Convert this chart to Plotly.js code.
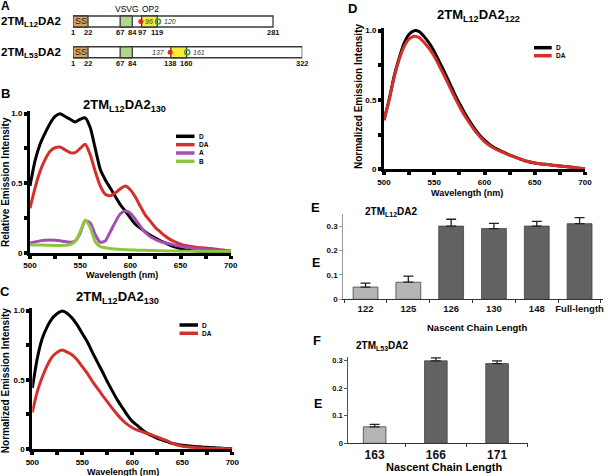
<!DOCTYPE html>
<html><head><meta charset="utf-8">
<script src="https://cdn.plot.ly/plotly-3.0.1.min.js"></script>
<style>html,body{margin:0;padding:0;background:#fff}#chart{width:608px;height:476px}</style>
</head><body><div id="chart"></div>
<script>
// ---------- DATA ----------
const wavelength = [500,505,510,515,520,525,530,535,540,545,550,555,560,565,570,575,580,585,590,595,600,605,610,615,620,625,630,635,640,645,650,655,660,665,670,675,680,685,690,695,700];

// Panel B: 2TM_L12DA2_130 relative emission
const B_D  = [0.48,0.66,0.78,0.86,0.93,0.98,1.0,0.98,0.96,0.94,0.96,0.97,0.90,0.75,0.60,0.525,0.465,0.405,0.345,0.30,0.25,0.205,0.177,0.15,0.125,0.105,0.086,0.07,0.053,0.04,0.028,0.02,0.015,0.012,0.01,0.009,0.008,0.007,0.006,0.005,0.005];
const B_DA = [0.32,0.465,0.585,0.67,0.73,0.755,0.76,0.74,0.72,0.72,0.75,0.78,0.705,0.585,0.48,0.42,0.41,0.43,0.46,0.48,0.453,0.40,0.333,0.27,0.225,0.18,0.149,0.118,0.094,0.077,0.062,0.052,0.045,0.04,0.036,0.033,0.03,0.025,0.02,0.015,0.012];
const B_A  = [0.07,0.078,0.085,0.09,0.092,0.09,0.086,0.08,0.075,0.085,0.14,0.23,0.215,0.13,0.075,0.085,0.15,0.22,0.28,0.30,0.285,0.24,0.19,0.145,0.115,0.095,0.08,0.07,0.062,0.054,0.046,0.04,0.035,0.031,0.028,0.025,0.022,0.02,0.018,0.016,0.015];
const B_B  = [0.058,0.056,0.055,0.054,0.053,0.052,0.052,0.053,0.058,0.08,0.15,0.235,0.18,0.08,0.045,0.035,0.03,0.027,0.024,0.022,0.02,0.019,0.018,0.017,0.016,0.015,0.014,0.013,0.012,0.012,0.011,0.011,0.01,0.01,0.01,0.009,0.009,0.009,0.008,0.008,0.008];

// Panel C: 2TM_L12DA2_130 normalized
const C_D  = [0.44,0.655,0.80,0.885,0.945,0.98,0.998,0.98,0.945,0.895,0.835,0.775,0.70,0.63,0.56,0.487,0.42,0.355,0.30,0.245,0.20,0.17,0.137,0.113,0.094,0.077,0.065,0.053,0.04,0.033,0.027,0.024,0.02,0.017,0.014,0.012,0.01,0.008,0.006,0.004,0.003];
const C_DA = [0.265,0.415,0.52,0.605,0.667,0.70,0.715,0.70,0.68,0.643,0.595,0.547,0.49,0.44,0.39,0.342,0.294,0.25,0.21,0.178,0.154,0.137,0.125,0.113,0.10,0.087,0.072,0.058,0.04,0.029,0.02,0.016,0.013,0.01,0.008,0.006,0.005,0.004,0.003,0.002,0.002];

// Panel D: 2TM_L12DA2_122 normalized
const D_D  = [0.355,0.50,0.67,0.80,0.91,0.975,1.0,0.993,0.957,0.91,0.85,0.776,0.705,0.627,0.548,0.476,0.41,0.35,0.296,0.248,0.21,0.18,0.156,0.137,0.12,0.103,0.089,0.075,0.062,0.053,0.046,0.04,0.036,0.032,0.028,0.024,0.02,0.016,0.012,0.007,0.003];
const D_DA = [0.355,0.495,0.66,0.79,0.885,0.94,0.96,0.95,0.915,0.87,0.815,0.745,0.675,0.60,0.525,0.455,0.39,0.335,0.283,0.238,0.20,0.172,0.15,0.132,0.117,0.102,0.09,0.076,0.063,0.054,0.046,0.04,0.036,0.032,0.028,0.024,0.02,0.016,0.012,0.007,0.003];

// Panel E: FRET efficiency vs nascent chain length (2TM_L12DA2)
const E_cats = ['122','125','126','130','148','Full-length'];
const E_vals = [0.05,0.07,0.30,0.29,0.30,0.31];
const E_err  = [0.016,0.025,0.028,0.021,0.019,0.025];
// Panel F: (2TM_L53DA2)
const F_cats = ['163','166','171'];
const F_vals = [0.06,0.30,0.29];
const F_err  = [0.009,0.011,0.01];

// Panel A schematic
const rowNames = ['2TM<sub>L12</sub>DA2','2TM<sub>L53</sub>DA2'];
const rowLength = [281,322];
const ssRange = [[1,22],[1,22]];
const vsvgRange = [[67,84],[67,84]];
const op2Range = [[97,119],[138,160]];
const donorSite = [96,137];
const acceptorSite = [120,161];
const rowTickLabels = [[1,22,67,84,97,119,281],[1,22,67,84,138,160,322]];

const xTickVals = [500,550,600,650,700];
const xTickText = ['500','550','600','650','700'];
const yTickVals = [0,0.5,1];
const yTickText = ['0','0.5','1.0'];
const barTickVals = [0,0.1,0.2,0.3];
const barTickText = ['0','0.1','0.2','0.3'];

// ---------- LAYOUT HELPERS ----------
const W=608,H=476;
const FF='"Liberation Sans", Arial, Helvetica, sans-serif';
const px=x=>x/W, py=y=>1-y/H;
const dom=(a,b)=>[px(a),px(b)];
const ydom=(top,bot)=>[py(bot),py(top)];
const RED='#D3302B', PURPLE='#A54DB3', GREEN='#8DC641';

function specX(a,b,anchor){return {domain:dom(a,b),range:[500,700],anchor:anchor,showline:true,linewidth:3,linecolor:'#000',
  ticks:'outside',ticklen:3,tickwidth:4,tickcolor:'#000',tickvals:xTickVals,ticktext:xTickText,
  minor:{tick0:500,dtick:25,ticks:'outside',ticklen:3,tickwidth:4,tickcolor:'#000',showgrid:false},
  tickfont:{family:FF,size:8,weight:'bold',color:'#000'},showgrid:false,zeroline:false,fixedrange:true};}
function specY(top,bot,anchor){return {domain:ydom(top,bot),range:[0,1.02],anchor:anchor,showline:true,linewidth:3,linecolor:'#000',
  ticks:'outside',ticklen:3,tickwidth:4,tickcolor:'#000',tickvals:yTickVals,ticktext:yTickText,
  minor:{tick0:0,dtick:0.25,ticks:'outside',ticklen:3,tickwidth:4,tickcolor:'#000',showgrid:false},
  tickfont:{family:FF,size:8,weight:'bold',color:'#000'},showgrid:false,zeroline:false,fixedrange:true};}

const traces=[];
// Panel A markers
traces.push({type:'scatter',mode:'markers',x:donorSite,y:[1,2],xaxis:'x',yaxis:'y',marker:{color:'#E0262B',size:5},showlegend:false,hoverinfo:'skip'});
traces.push({type:'scatter',mode:'markers',x:acceptorSite,y:[1,2],xaxis:'x',yaxis:'y',marker:{symbol:'circle-open',color:'#3E9A3A',size:5,line:{width:1.5}},showlegend:false,hoverinfo:'skip'});

function line(x,y,c,xa,ya,name){return {type:'scatter',mode:'lines',x:x,y:y,xaxis:xa,yaxis:ya,name:name,line:{color:c,width:3,shape:'spline',smoothing:0.6},showlegend:false,hoverinfo:'skip'};}
traces.push(line(wavelength,B_D,'#000','x2','y2','D'));
traces.push(line(wavelength,B_DA,RED,'x2','y2','DA'));
traces.push(line(wavelength,B_A,PURPLE,'x2','y2','A'));
traces.push(line(wavelength,B_B,GREEN,'x2','y2','B'));
traces.push(line(wavelength,C_D,'#000','x3','y3','D'));
traces.push(line(wavelength,C_DA,RED,'x3','y3','DA'));
traces.push(line(wavelength,D_D,'#000','x4','y4','D'));
traces.push(line(wavelength,D_DA,RED,'x4','y4','DA'));

const LIGHT='#B5B5B5', DARK='#626262';
traces.push({type:'bar',x:E_cats,y:E_vals,xaxis:'x5',yaxis:'y5',width:0.58,
  marker:{color:E_vals.map(v=>v<0.15?LIGHT:DARK),line:{color:'#444',width:0.8}},
  error_y:{type:'data',symmetric:false,array:E_err,arrayminus:E_err.map(()=>0),color:'#222',thickness:1.3,width:5},
  showlegend:false,hoverinfo:'skip'});
traces.push({type:'bar',x:F_cats,y:F_vals,xaxis:'x6',yaxis:'y6',width:0.37,
  marker:{color:F_vals.map(v=>v<0.15?LIGHT:DARK),line:{color:'#444',width:0.8}},
  error_y:{type:'data',symmetric:false,array:F_err,arrayminus:F_err.map(()=>0),color:'#222',thickness:1.3,width:5},
  showlegend:false,hoverinfo:'skip'});

// ---------- SHAPES ----------
const shapes=[];
const hh=0.179;
function box(x0,x1,row,fill){shapes.push({type:'rect',xref:'x',yref:'y',x0:x0,x1:x1,y0:row-hh,y1:row+hh,fillcolor:fill,line:{color:'#3a3a3a',width:1.3},layer:'below'});}
for(let r=0;r<2;r++){
  const row=r+1;
  box(1,rowLength[r],row,'#FFFFFF');
  box(ssRange[r][0],ssRange[r][1],row,'#D9A45C');
  box(vsvgRange[r][0],vsvgRange[r][1],row,'#B4D78E');
  box(op2Range[r][0],op2Range[r][1],row,'#F6EC3C');
}
// legend marks (paper)
function legLine(x0,x1,y,c){shapes.push({type:'line',xref:'paper',yref:'paper',x0:px(x0),x1:px(x1),y0:py(y),y1:py(y),line:{color:c,width:3.5}});}

const anns=[];
function A(text,x,y,size,o){o=o||{};anns.push(Object.assign({text:text,x:px(x),y:py(y),xref:'paper',yref:'paper',showarrow:false,
  font:{family:FF,size:size,color:o.color||'#000',style:o.style||'normal'},xanchor:o.xa||'center',yanchor:o.ya||'middle',textangle:o.angle||0},o.extra||{}));}

// Panel A annotations
A('<b>A</b>',5.5,6,12);
A('<b>'+rowNames[0]+'</b>',63,22,11.5,{xa:'right'});
A('<b>'+rowNames[1]+'</b>',63,52.5,11.5,{xa:'right'});
A('VSVG',126.5,9,8.5);
A('OP2',150,9,8.5);
for(let r=0;r<2;r++){
  const row=r+1;
  anns.push({text:'SS',x:(ssRange[r][0]+ssRange[r][1])/2,y:row,xref:'x',yref:'y',showarrow:false,font:{family:FF,size:9,color:'#222'}});
  rowTickLabels[r].forEach(v=>anns.push({text:'<b>'+v+'</b>',x:v,y:row+0.37,xref:'x',yref:'y',showarrow:false,font:{family:FF,size:7.5,color:'#111'}}));
}
anns.push({text:'<i>96</i>',x:99,y:1,xref:'x',yref:'y',showarrow:false,xanchor:'left',font:{family:FF,size:7,color:'#333'}});
anns.push({text:'<i>120</i>',x:acceptorSite[0]+5,y:1,xref:'x',yref:'y',showarrow:false,xanchor:'left',font:{family:FF,size:7,color:'#333'}});
anns.push({text:'<i>137</i>',x:donorSite[1]-4,y:2,xref:'x',yref:'y',showarrow:false,xanchor:'right',font:{family:FF,size:7,color:'#333'}});
anns.push({text:'<i>161</i>',x:acceptorSite[1]+5,y:2,xref:'x',yref:'y',showarrow:false,xanchor:'left',font:{family:FF,size:7,color:'#333'}});

// Panel B
A('<b>B</b>',5,94,13);
A('<b>2TM<sub>L12</sub>DA2<sub>130</sub></b>',124,105,13);
A('<b>Relative Emission Intensity</b>',5.5,182.5,10,{angle:-90});
A('<b>Wavelength (nm)</b>',122,275,9);
[['D','#000',136.3],['DA',RED,144.7],['A',PURPLE,153],['B',GREEN,161.3]].forEach(l=>{legLine(176,194.5,l[2],l[1]);A('<b>'+l[0]+'</b>',196.5,l[2],6.5,{xa:'left'});});

// Panel C
A('<b>C</b>',4.5,291,13);
A('<b>2TM<sub>L12</sub>DA2<sub>130</sub></b>',117.5,297.3,13);
A('<b>Normalized Emission Intensity</b>',5.5,380.7,10,{angle:-90});
A('<b>Wavelength (nm)</b>',122.5,472,9);
[['D','#000',325],['DA',RED,333.3]].forEach(l=>{legLine(179.5,198,l[2],l[1]);A('<b>'+l[0]+'</b>',200,l[2],6.5,{xa:'left'});});

// Panel D
A('<b>D</b>',352,8,13);
A('<b>2TM<sub>L12</sub>DA2<sub>122</sub></b>',478,15,13);
A('<b>Normalized Emission Intensity</b>',358.3,96.7,10,{angle:-90});
A('<b>Wavelength (nm)</b>',466.7,192.5,9);
[['D','#000',47.7],['DA',RED,55.7]].forEach(l=>{legLine(534,551.7,l[2],l[1]);A('<b>'+l[0]+'</b>',553.5,l[2],6.5,{xa:'left'});});

// Panel E
A('<b>E</b>',315.5,207.5,13);
A('<b>E</b>',315.5,263.3,12.5);
A('<b>2TM<sub>L12</sub>DA2</b>',391.5,211.7,10);
A('<b>Nascent Chain Length</b>',476.7,327.7,9.5);
// Panel F
A('<b>F</b>',316.5,340.5,13);
A('<b>E</b>',317.5,404,12.5);
A('<b>2TM<sub>L53</sub>DA2</b>',382.5,346,10);
A('<b>Nascent Chain Length</b>',444,467.3,11);

function barX(a,b,anchor,range,size){return {domain:dom(a,b),anchor:anchor,type:'category',range:range,showline:true,linecolor:'#333',linewidth:1,
  ticks:'outside',tickson:'boundaries',ticklen:3,tickcolor:'#333',tickangle:0,tickfont:{family:FF,size:size,weight:'bold',color:'#111'},showgrid:false,zeroline:false,fixedrange:true};}
function barY(top,bot,anchor,range,lc,size){return {domain:ydom(top,bot),anchor:anchor,range:range,showline:true,linecolor:lc,linewidth:1,
  ticks:'outside',ticklen:3,tickcolor:lc,tickvals:barTickVals,ticktext:barTickText,tickfont:{family:FF,size:size,weight:'bold',color:'#111'},showgrid:false,zeroline:false,fixedrange:true};}

const layout={width:W,height:H,margin:{l:0,r:0,t:0,b:0},paper_bgcolor:'#fff',plot_bgcolor:'rgba(0,0,0,0)',showlegend:false,
  font:{family:FF,color:'#000'},
  xaxis:{domain:dom(73,302.3),range:[1,322],visible:false,anchor:'y',fixedrange:true},
  yaxis:{domain:ydom(6,68),range:[2.512,0.496],visible:false,anchor:'x',fixedrange:true},
  xaxis2:specX(30,230.7,'y2'), yaxis2:specY(110.9,252.7,'x2'),
  xaxis3:specX(32.3,232.3,'y3'), yaxis3:specY(307.9,449,'x3'),
  xaxis4:specX(384,585,'y4'), yaxis4:specY(27.9,169.3,'x4'),
  xaxis5:barX(343.3,602.7,'y5',[-0.519,5.54],9.5), yaxis5:barY(213.9,299.3,'x5',[0,0.35],'#999',8),
  xaxis6:barX(348.3,527.7,'y6',[-0.43,2.5],12), yaxis6:barY(356.7,443.3,'x6',[0,0.315],'#555',7.5),
  shapes:shapes, annotations:anns};
Plotly.newPlot('chart',traces,layout,{staticPlot:true,displayModeBar:false});
</script></body></html>
